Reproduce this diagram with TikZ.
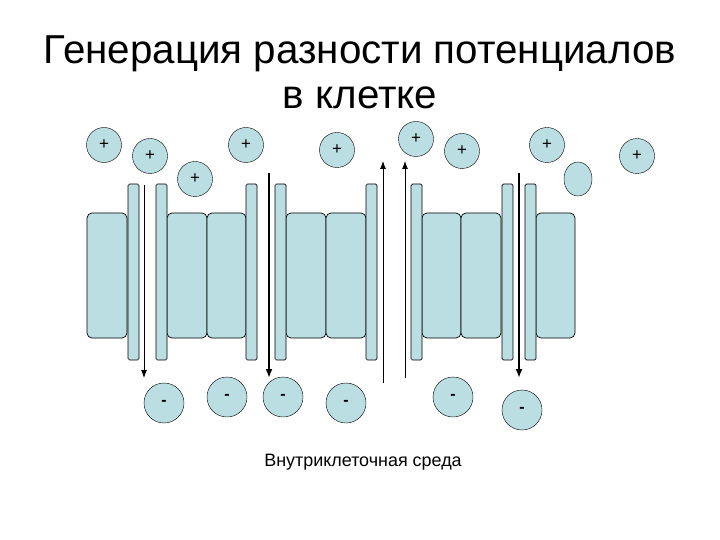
\documentclass[tikz,border=0pt]{standalone}
\usepackage{fontspec}
\setmainfont{Liberation Sans}
\usetikzlibrary{arrows.meta,shapes.geometric}
\begin{document}
\begin{tikzpicture}[x=1bp,y=-1bp,
  blk/.style={draw,fill=fillc,rounded corners=5bp,line width=0.7bp},
  bar/.style={draw,fill=fillc,rounded corners=1.5bp,line width=0.7bp},
  ion/.style={draw,fill=fillc,circle,minimum size=35bp,inner sep=0pt,font=\fontsize{17}{17}\selectfont},
  anion/.style={draw,fill=fillc,circle,minimum size=40bp,inner sep=0pt,font=\fontsize{16}{16}\selectfont\bfseries},
  thin/.style={-{Latex[length=8bp,width=6bp]},line width=0.9bp},
  thick/.style={-{Latex[length=9bp,width=7bp]},line width=1.8bp}]
\definecolor{fillc}{RGB}{187,222,226}
\useasboundingbox (0,0) rectangle (720,540);
\node[font=\fontsize{40.5}{45}\selectfont,align=center] (title) at (360,72) {Генерация разности потенциалов\\в клетке};
% blocks
\foreach \a/\b [count=\i] in {87/127,167/207,207/246,286/326,326/366,422/461,461/501,536/575}
  \draw[blk] (\a,213) rectangle (\b,338);
\foreach \a [count=\i] in {128,156,246,275,366,411,502,525}
  \draw[bar] (\a,184) rectangle ++(11,176);
% arrows
\coordinate (a1s) at (144,185); \coordinate (a1e) at (144,378);
\coordinate (a2s) at (269,173); \coordinate (a2e) at (269,378);
\coordinate (a3s) at (383,383); \coordinate (a3e) at (383,161);
\coordinate (a4s) at (405,378); \coordinate (a4e) at (405,161);
\coordinate (a5s) at (519,173); \coordinate (a5e) at (519,378);
\draw[thin] (a1s) -- (a1e);
\draw[thick] (a2s) -- (a2e);
\draw[thin] (a3s) -- (a3e);
\draw[thin] (a4s) -- (a4e);
\draw[thick] (a5s) -- (a5e);
% ions
\node[ion] (p1) at (104,145) {+};
\node[ion] (p2) at (150,156) {+};
\node[ion] (p3) at (195,179) {+};
\node[ion] (p4) at (246,145) {+};
\node[ion] (p5) at (337,150) {+};
\node[ion] (p6) at (416,139) {+};
\node[ion] (p7) at (462,151) {+};
\node[ion] (p8) at (547,145) {+};
\node[ion] (p10) at (637,156) {+};
\node[draw,fill=fillc,ellipse,minimum width=28bp,minimum height=34bp,inner sep=0pt] (p9) at (578,179) {};
\node[anion] (m1) at (164,403) {-};
\node[anion] (m2) at (227,397) {-};
\node[anion] (m3) at (283,397) {-};
\node[anion] (m4) at (346,403) {-};
\node[anion] (m5) at (453,397) {-};
\node[anion] (m6) at (522,410) {-};
\node[font=\fontsize{18}{18}\selectfont] (lab) at (363,462) {Внутриклеточная среда};
\end{tikzpicture}
\end{document}
